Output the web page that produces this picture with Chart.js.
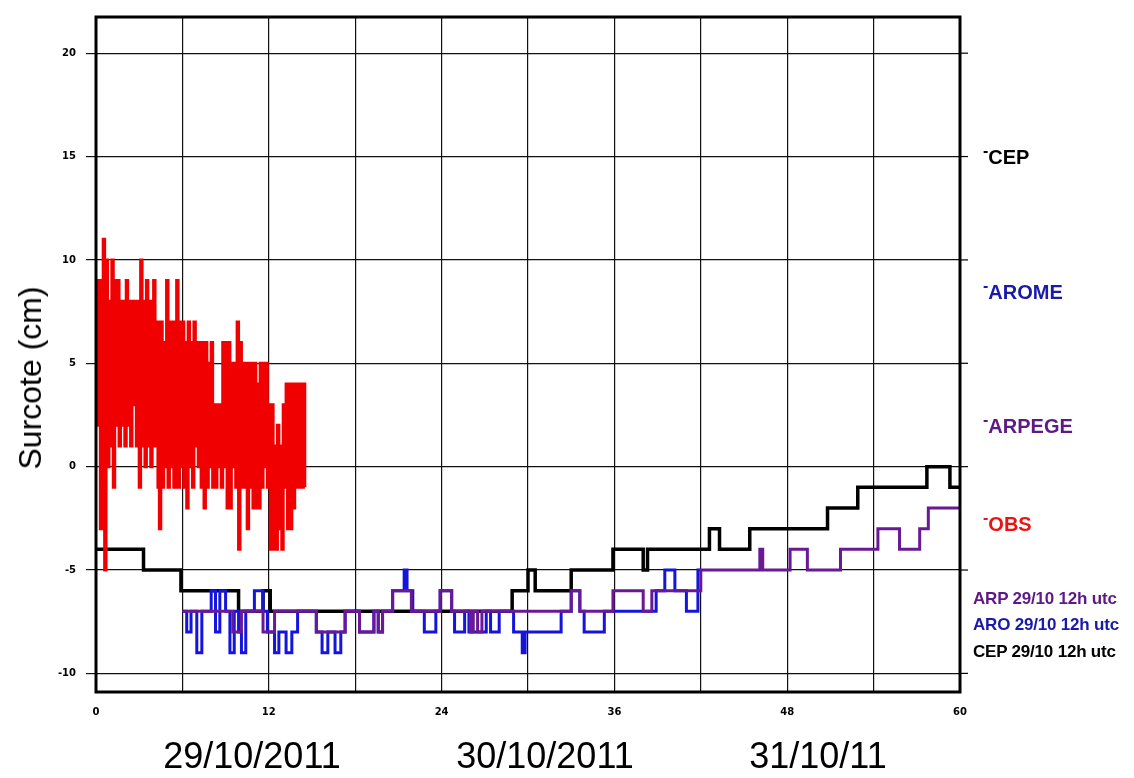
<!DOCTYPE html>
<html>
<head>
<meta charset="utf-8">
<script src="https://cdn.jsdelivr.net/npm/chart.js@4.4.0/dist/chart.umd.min.js"></script>
<style>
body { margin: 0; background: #fff; }
#wrap { position: relative; width: 1134px; height: 778px; }
.t { position: absolute; font-family: "Liberation Sans", Arial, sans-serif; white-space: nowrap; transform: translateY(-50%); line-height: 1; }
.ytitle { left: 30px; top: 378px; font-size: 32px; transform: translate(-50%, -50%) rotate(-90deg); }
.leg { left: 983px; font-size: 20px; font-weight: bold; }
.leg .d { font-size: 16px; vertical-align: 0.45em; margin-right: 0; }
.run { left: 973px; font-size: 17px; font-weight: bold; letter-spacing: -0.2px; }
.date { font-size: 36px; top: 756px; transform: translate(-50%, -50%); }
</style>
</head>
<body>
<div id="wrap">
<canvas id="surcote" width="1134" height="778"></canvas>
<div class="t ytitle">Surcote (cm)</div>
<div class="t leg" style="top:155px;color:#000"><span class="d">-</span>CEP</div>
<div class="t leg" style="top:290px;color:rgb(25,25,170)"><span class="d">-</span>AROME</div>
<div class="t leg" style="top:424px;color:rgb(95,25,135)"><span class="d">-</span>ARPEGE</div>
<div class="t leg" style="top:522px;color:rgb(235,20,20)"><span class="d">-</span>OBS</div>
<div class="t run" style="top:598px;color:rgb(95,25,135)">ARP 29/10 12h utc</div>
<div class="t run" style="top:624px;color:rgb(25,25,170)">ARO 29/10 12h utc</div>
<div class="t run" style="top:651px;color:#000">CEP 29/10 12h utc</div>
<div class="t date" style="left:252px">29/10/2011</div>
<div class="t date" style="left:545px">30/10/2011</div>
<div class="t date" style="left:818px">31/10/11</div>
</div>
<script>
// surge (cm) vs forecast hour
const yTicks = [-10, -5, 0, 5, 10, 15, 20];

// CEP run, value holds from each hour until the next one
const cepHours  = [0, 3.3, 5.9, 9.9, 11.6, 12.1, 28.9, 30, 30.5, 33, 35.9, 38, 38.3, 42.6, 43.3, 45.4, 50.8, 52.9, 57.7, 59.3, 60];
const cepValues = [-4, -5, -6, -7, -6, -7, -6, -5, -6, -5, -4, -5, -4, -3, -4, -3, -2, -1, 0, -1, -1];

const aroHours  = [6, 6.3, 6.6, 7, 7.35, 8, 8.3, 8.6, 9, 9.3, 9.6, 9.9, 10.1, 10.4, 11, 11.6, 11.9, 12.4, 12.7, 13.2,
                   13.6, 14, 15.3, 15.7, 16.1, 16.6, 17, 17.3, 18.3, 19.3, 19.6, 19.9, 20.6, 21.4, 21.6, 22, 22.8, 23.6, 23.9, 24.7,
                   24.9, 25.6, 25.9, 27.1, 27.4, 28, 29, 29.6, 29.8, 32.3, 33, 33.6, 33.9, 35.3, 38.9, 39.5, 40.2, 41, 41.8, 42];
const aroValues = [-7, -8, -7, -9, -7, -6, -8, -6, -7, -9, -7, -8, -9, -7, -6, -7, -8, -9, -8, -9,
                   -8, -7, -8, -9, -8, -9, -8, -7, -8, -7, -8, -7, -6, -5, -6, -7, -8, -7, -6, -7,
                   -8, -7, -8, -7, -8, -7, -8, -9, -8, -7, -6, -7, -8, -7, -6, -5, -6, -7, -5, -5];

const arpHours  = [6, 9.5, 10.1, 11.6, 12.4, 15.3, 17.3, 18.3, 19.3, 19.6, 19.9, 20.6, 21.9, 23.9, 24.7, 26, 26.2, 26.5,
                   26.8, 33, 33.6, 35.9, 38, 38.6, 42, 46.1, 46.3, 48.2, 49.4, 51.7, 54.3, 55.8, 57.2, 57.8, 60];
const arpValues = [-7, -8, -7, -8, -7, -8, -7, -8, -7, -8, -7, -6, -7, -6, -7, -8, -7, -8,
                   -7, -6, -7, -6, -7, -6, -5, -4, -5, -4, -5, -4, -3, -4, -3, -2, -2];

// observations every 6 minutes
const obsStep = 0.1;
const obsValues = [
  9, 2, 9, -3, 8, 11, -5, 10, 0, 8,
  1, 10, -1, 9, 2, 9, 1, 8, 2, 8,
  1, 9, 2, 8, 1, 8, 3, 8, 1, 8,
  -1, 10, 1, 8, 0, 9, 1, 8, 0, 8,
  9, 1, 7, -1, -3, 7, -1, 6, 0, 9,
  -1, 7, 0, 7, -1, 6, 9, -1, 7, 0,
  7, -1, 6, -2, 7, 0, 6, -1, 7, 1,
  6, 0, 6, -1, 6, -2, 6, -1, 5, 0,
  6, -1, 3, -1, 3, 0, 3, -1, 6, 0,
  6, -2, 6, -2, 5, 0, 5, -1, 7, -4,
  6, -1, 5, -1, 5, -3, 5, -1, 5, -2,
  5, -2, 4, -2, 5, -1, 5, 0, 5, -1,
  3, -4, 3, -4, 1, -4, 2, -3, 1, -4,
  3, -1, 4, -3, 4, -3, 4, -2, 4, -1,
  4, -1, 4, -1, 4, -1
];

function toPoints(hours, values) {
  return hours.map((h, i) => ({ x: h, y: values[i] }));
}

const obsPoints = obsValues.map((v, i) => ({ x: +(i * obsStep).toFixed(1), y: v }));

const tickFont = { family: 'DejaVu Sans', size: 10, weight: 'bold' };

// thick box round the plot + little stubs on the right side
const frame = {
  id: 'frame',
  afterDraw(chart) {
    const { ctx, chartArea: a, scales: { y } } = chart;
    ctx.save();
    ctx.strokeStyle = '#000';
    ctx.lineWidth = 1.2;
    yTicks.forEach(v => {
      const py = y.getPixelForValue(v);
      ctx.beginPath();
      ctx.moveTo(a.right, py);
      ctx.lineTo(a.right + 8, py);
      ctx.stroke();
    });
    ctx.lineWidth = 3;
    ctx.strokeRect(a.left, a.top, a.right - a.left, a.bottom - a.top);
    ctx.restore();
  }
};

const config = {
  type: 'line',
  data: {
    datasets: [
      { label: 'OBS', data: obsPoints, borderColor: 'rgb(240,0,0)', borderWidth: 3, stepped: true },
      { label: 'ARPEGE', data: toPoints(arpHours, arpValues), borderColor: 'rgb(105,25,150)', borderWidth: 3, stepped: true },
      { label: 'AROME', data: toPoints(aroHours, aroValues), borderColor: 'rgb(20,20,220)', borderWidth: 3, stepped: true },
      { label: 'CEP', data: toPoints(cepHours, cepValues), borderColor: '#000', borderWidth: 3.5, stepped: true }
    ]
  },
  options: {
    responsive: false,
    animation: false,
    layout: { padding: { left: 0, top: 17, right: 174, bottom: 0 } },
    elements: { point: { radius: 0 }, line: { tension: 0, fill: false } },
    plugins: { legend: { display: false }, tooltip: { enabled: false } },
    scales: {
      x: {
        type: 'linear', min: 0, max: 60,
        ticks: {
          stepSize: 6, autoSkip: false, maxRotation: 0, padding: 14,
          color: '#000', font: tickFont,
          callback: v => (v % 12 === 0 ? v : '')
        },
        grid: { color: '#111', lineWidth: 1.2, drawTicks: false },
        border: { display: false },
        afterFit: s => { s.height = 86; }
      },
      y: {
        min: -10.9, max: 21.75,
        afterBuildTicks: s => { s.ticks = yTicks.map(v => ({ value: v })); },
        ticks: { padding: 10, color: '#000', font: tickFont },
        grid: { color: '#111', lineWidth: 1.2, tickLength: 10 },
        border: { display: false },
        afterFit: s => { s.width = 96; }
      }
    }
  },
  plugins: [frame]
};

let surcoteChart = new Chart(document.getElementById('surcote'), config);
</script>
</body>
</html>
